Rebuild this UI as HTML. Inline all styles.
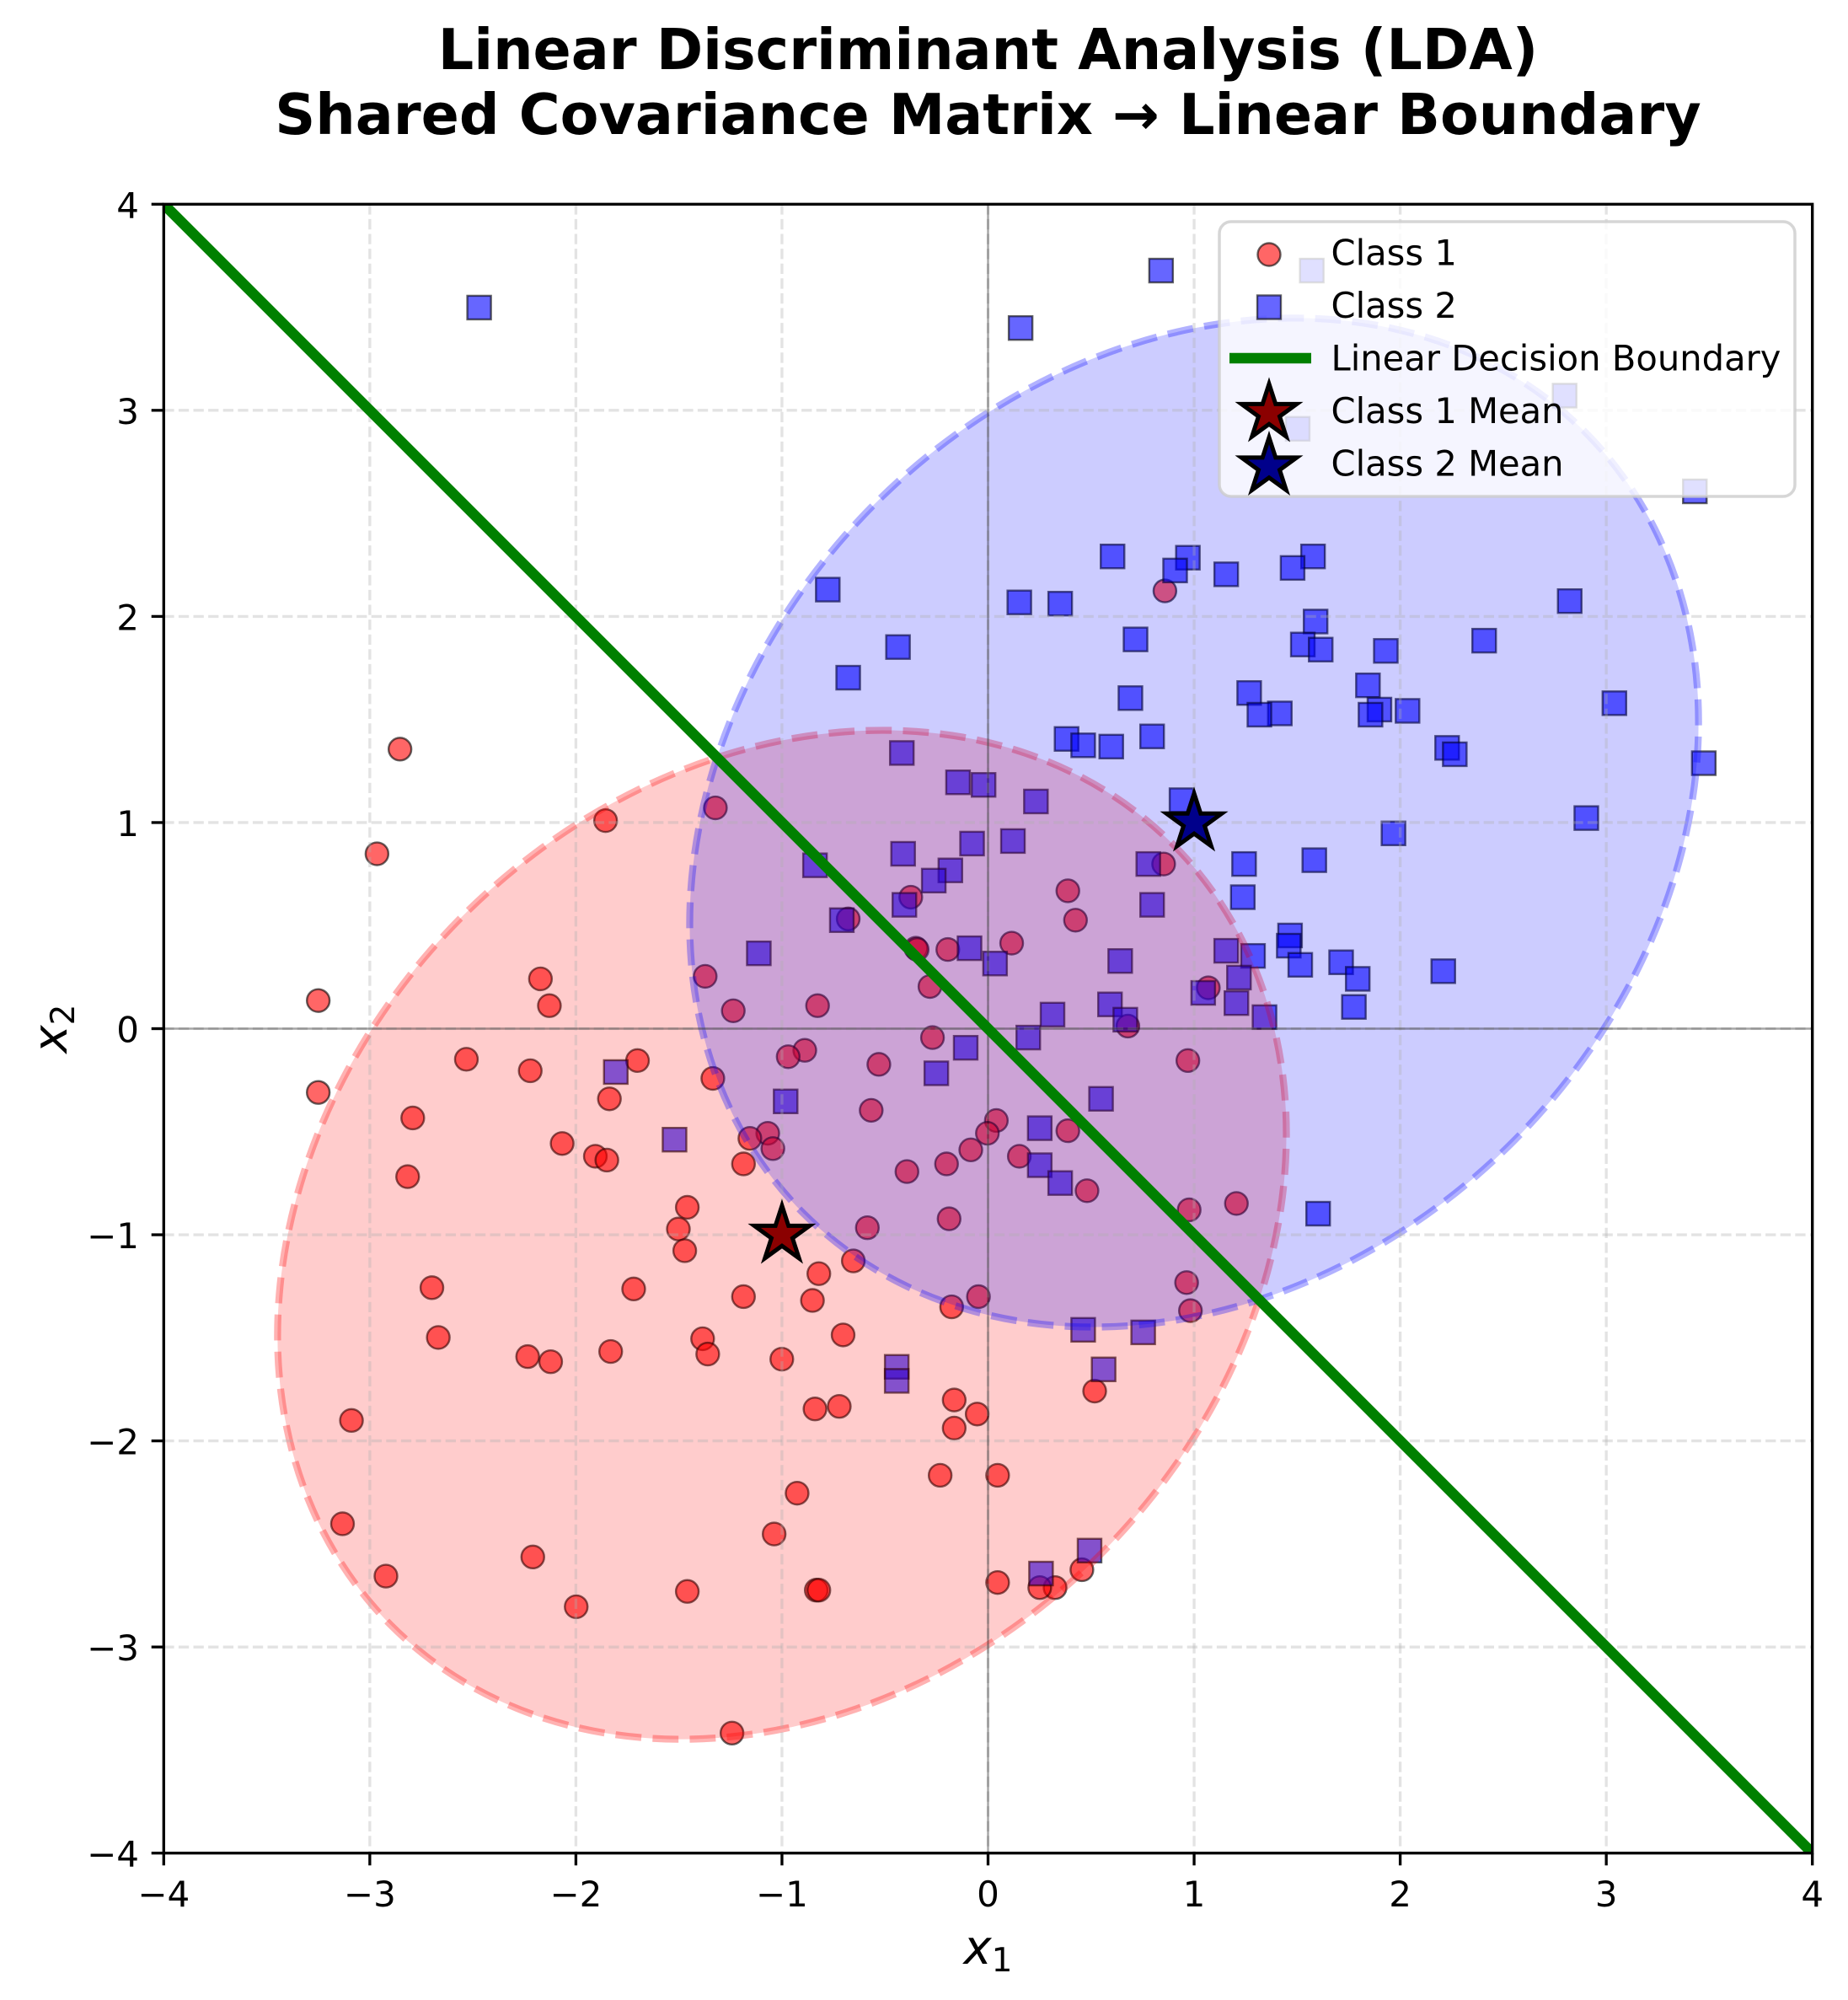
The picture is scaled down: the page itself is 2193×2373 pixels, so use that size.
<!DOCTYPE html>
<html>
<head>
<meta charset="utf-8">
<style>
html,body{margin:0;padding:0;background:#fff;}
svg{display:block;}
text{font-family:"DejaVu Sans","Liberation Sans",sans-serif;fill:#000;}
</style>
</head>
<body>
<svg xmlns="http://www.w3.org/2000/svg" width="2193" height="2373" viewBox="0 0 2193 2373">
<defs>
<clipPath id="ax"><rect x="194.3" y="242.3" width="1956.4" height="1956.4"/></clipPath>
<circle id="c" cx="0" cy="0" r="8.9" fill="#ff0000" fill-opacity="0.6" stroke="#000" stroke-opacity="0.6" stroke-width="1.6"/>
<rect id="s" x="-9.25" y="-9.25" width="18.5" height="18.5" fill="#0000ff" fill-opacity="0.6" stroke="#000" stroke-opacity="0.6" stroke-width="1.6"/>
<path id="star" d="M0,-34.5 L7.75,-10.66 L32.81,-10.66 L12.54,4.07 L20.28,27.91 L0,13.18 L-20.28,27.91 L-12.54,4.07 L-32.81,-10.66 L-7.75,-10.66 Z"/>
</defs>
<rect x="0" y="0" width="2193" height="2373" fill="#fff"/>

<!-- title -->
<text x="1172.5" y="82" font-size="66.67" font-weight="bold" text-anchor="middle">Linear Discriminant Analysis (LDA)</text>
<text x="1172.5" y="159" font-size="66.67" font-weight="bold" text-anchor="middle">Shared Covariance Matrix → Linear Boundary</text>

<g clip-path="url(#ax)">
<!-- scatter points in display coordinates -->
<g transform="matrix(1.5154 0 0 1.5142 0.33 0.03)">
<use href="#c" x="912" y="463"/><use href="#c" x="313" y="587"/><use href="#c" x="474" y="643"/><use href="#c" x="560" y="633"/>
<use href="#c" x="295" y="669"/><use href="#c" x="713" y="703"/><use href="#c" x="664" y="720"/><use href="#c" x="836" y="698"/>
<use href="#c" x="842" y="721"/><use href="#c" x="911" y="677"/><use href="#c" x="717" y="743"/><use href="#c" x="718" y="744"/>
<use href="#c" x="742" y="744"/><use href="#c" x="792" y="739"/><use href="#c" x="728" y="773"/><use href="#c" x="946" y="774"/>
<use href="#c" x="552" y="765"/><use href="#c" x="423" y="767"/><use href="#c" x="249" y="784"/><use href="#c" x="430" y="788"/>
<use href="#c" x="640" y="788"/><use href="#c" x="574" y="792"/><use href="#c" x="883" y="804"/><use href="#c" x="730" y="813"/>
<use href="#c" x="630" y="823"/><use href="#c" x="617" y="828"/><use href="#c" x="365" y="830"/><use href="#c" x="499" y="831"/>
<use href="#c" x="930" y="831"/><use href="#c" x="688" y="834"/><use href="#c" x="415" y="839"/><use href="#c" x="558" y="845"/>
<use href="#c" x="249" y="856"/><use href="#c" x="477" y="861"/><use href="#c" x="682" y="870"/><use href="#c" x="323" y="876"/>
<use href="#c" x="780" y="878"/><use href="#c" x="836" y="886"/><use href="#c" x="773" y="888"/><use href="#c" x="601" y="888"/>
<use href="#c" x="587" y="892"/><use href="#c" x="440" y="896"/><use href="#c" x="605" y="900"/><use href="#c" x="760" y="901"/>
<use href="#c" x="466" y="906"/><use href="#c" x="798" y="906"/><use href="#c" x="475" y="909"/><use href="#c" x="582" y="912"/>
<use href="#c" x="741" y="912"/><use href="#c" x="710" y="918"/><use href="#c" x="319" y="922"/><use href="#c" x="851" y="933"/>
<use href="#c" x="968" y="943"/><use href="#c" x="538" y="946"/><use href="#c" x="931" y="948"/><use href="#c" x="743" y="955"/>
<use href="#c" x="679" y="962"/><use href="#c" x="531" y="963"/><use href="#c" x="536" y="980"/><use href="#c" x="668" y="988"/>
<use href="#c" x="641" y="998"/><use href="#c" x="338" y="1009"/><use href="#c" x="496" y="1010"/><use href="#c" x="929" y="1005"/>
<use href="#c" x="582" y="1016"/><use href="#c" x="766" y="1016"/><use href="#c" x="636" y="1019"/><use href="#c" x="745" y="1024"/>
<use href="#c" x="932" y="1027"/><use href="#c" x="343" y="1048"/><use href="#c" x="550" y="1049"/><use href="#c" x="660" y="1046"/>
<use href="#c" x="478" y="1059"/><use href="#c" x="554" y="1061"/><use href="#c" x="413" y="1063"/><use href="#c" x="431" y="1067"/>
<use href="#c" x="612" y="1065"/><use href="#c" x="857" y="1090"/><use href="#c" x="747" y="1097"/><use href="#c" x="638" y="1104"/>
<use href="#c" x="657" y="1102"/><use href="#c" x="765" y="1108"/><use href="#c" x="275" y="1113"/><use href="#c" x="747" y="1119"/>
<use href="#c" x="781" y="1156"/><use href="#c" x="736" y="1156"/><use href="#c" x="624" y="1170"/><use href="#c" x="268" y="1194"/>
<use href="#c" x="606" y="1202"/><use href="#c" x="417" y="1220"/><use href="#c" x="847" y="1230"/><use href="#c" x="781" y="1240"/>
<use href="#c" x="826" y="1244"/><use href="#c" x="814" y="1244"/><use href="#c" x="302" y="1235"/><use href="#c" x="538" y="1247"/>
<use href="#c" x="639" y="1246"/><use href="#c" x="641" y="1246"/><use href="#c" x="451" y="1259"/><use href="#c" x="573" y="1358"/>

<use href="#s" x="375" y="241"/><use href="#s" x="909" y="212"/><use href="#s" x="1027" y="212"/><use href="#s" x="799" y="257"/>
<use href="#s" x="1225" y="310"/><use href="#s" x="1016" y="336"/><use href="#s" x="1327" y="385"/><use href="#s" x="871" y="436"/>
<use href="#s" x="930" y="437"/><use href="#s" x="1028" y="436"/><use href="#s" x="1012" y="445"/><use href="#s" x="920" y="447"/>
<use href="#s" x="960" y="450"/><use href="#s" x="648" y="462"/><use href="#s" x="798" y="472"/><use href="#s" x="830" y="473"/>
<use href="#s" x="1229" y="471"/><use href="#s" x="1030" y="487"/><use href="#s" x="1162" y="502"/><use href="#s" x="889" y="501"/>
<use href="#s" x="1020" y="505"/><use href="#s" x="1034" y="509"/><use href="#s" x="1085" y="510"/><use href="#s" x="703" y="507"/>
<use href="#s" x="664" y="531"/><use href="#s" x="978" y="543"/><use href="#s" x="885" y="547"/><use href="#s" x="1071" y="537"/>
<use href="#s" x="1264" y="551"/><use href="#s" x="1002" y="559"/><use href="#s" x="986" y="560"/><use href="#s" x="1080" y="556"/>
<use href="#s" x="1102" y="557"/><use href="#s" x="1073" y="560"/><use href="#s" x="835" y="579"/><use href="#s" x="848" y="584"/>
<use href="#s" x="870" y="585"/><use href="#s" x="902" y="577"/><use href="#s" x="1133" y="586"/><use href="#s" x="1139" y="591"/>
<use href="#s" x="1334" y="598"/><use href="#s" x="706" y="590"/><use href="#s" x="750" y="613"/><use href="#s" x="770" y="615"/>
<use href="#s" x="811" y="628"/><use href="#s" x="925" y="627"/><use href="#s" x="1242" y="641"/><use href="#s" x="1091" y="653"/>
<use href="#s" x="761" y="661"/><use href="#s" x="793" y="659"/><use href="#s" x="707" y="669"/><use href="#s" x="638" y="678"/>
<use href="#s" x="974" y="677"/><use href="#s" x="1029" y="674"/><use href="#s" x="899" y="677"/><use href="#s" x="744" y="682"/>
<use href="#s" x="731" y="690"/><use href="#s" x="708" y="709"/><use href="#s" x="902" y="709"/><use href="#s" x="659" y="721"/>
<use href="#s" x="973" y="703"/><use href="#s" x="1010" y="733"/><use href="#s" x="1009" y="741"/><use href="#s" x="594" y="747"/>
<use href="#s" x="960" y="745"/><use href="#s" x="981" y="749"/><use href="#s" x="1050" y="754"/><use href="#s" x="1018" y="756"/>
<use href="#s" x="759" y="743"/><use href="#s" x="877" y="753"/><use href="#s" x="1063" y="767"/><use href="#s" x="1130" y="761"/>
<use href="#s" x="970" y="766"/><use href="#s" x="779" y="755"/><use href="#s" x="942" y="778"/><use href="#s" x="869" y="787"/>
<use href="#s" x="968" y="786"/><use href="#s" x="1060" y="789"/><use href="#s" x="824" y="795"/><use href="#s" x="881" y="799"/>
<use href="#s" x="990" y="797"/><use href="#s" x="805" y="813"/><use href="#s" x="756" y="821"/><use href="#s" x="482" y="840"/>
<use href="#s" x="733" y="841"/><use href="#s" x="615" y="863"/><use href="#s" x="862" y="861"/><use href="#s" x="528" y="893"/>
<use href="#s" x="814" y="884"/><use href="#s" x="814" y="913"/><use href="#s" x="830" y="927"/><use href="#s" x="1032" y="951"/>
<use href="#s" x="848" y="1042"/><use href="#s" x="895" y="1044"/><use href="#s" x="864" y="1073"/><use href="#s" x="702" y="1071"/>
<use href="#s" x="702" y="1082"/><use href="#s" x="853" y="1215"/><use href="#s" x="815" y="1233"/>
</g>

<!-- covariance ellipses -->
<ellipse cx="927.95" cy="1465.05" rx="655.7" ry="535.4" transform="rotate(-45 927.95 1465.05)" fill="#ff0000" fill-opacity="0.2" stroke="#ff0000" stroke-opacity="0.3" stroke-width="8.3" stroke-dasharray="30.8 13.3"/>
<ellipse cx="1417.05" cy="975.95" rx="655.7" ry="535.4" transform="rotate(-45 1417.05 975.95)" fill="#0000ff" fill-opacity="0.2" stroke="#0000ff" stroke-opacity="0.3" stroke-width="8.3" stroke-dasharray="30.8 13.3"/>

<!-- grid -->
<g stroke="#b0b0b0" stroke-opacity="0.35" stroke-width="3.33" stroke-dasharray="12.3 5.3" fill="none">
<line x1="438.85" y1="242.3" x2="438.85" y2="2198.7"/>
<line x1="683.4" y1="242.3" x2="683.4" y2="2198.7"/>
<line x1="927.95" y1="242.3" x2="927.95" y2="2198.7"/>
<line x1="1172.5" y1="242.3" x2="1172.5" y2="2198.7"/>
<line x1="1417.05" y1="242.3" x2="1417.05" y2="2198.7"/>
<line x1="1661.6" y1="242.3" x2="1661.6" y2="2198.7"/>
<line x1="1906.15" y1="242.3" x2="1906.15" y2="2198.7"/>
<line x1="194.3" y1="486.85" x2="2150.7" y2="486.85"/>
<line x1="194.3" y1="731.4" x2="2150.7" y2="731.4"/>
<line x1="194.3" y1="975.95" x2="2150.7" y2="975.95"/>
<line x1="194.3" y1="1220.5" x2="2150.7" y2="1220.5"/>
<line x1="194.3" y1="1465.05" x2="2150.7" y2="1465.05"/>
<line x1="194.3" y1="1709.6" x2="2150.7" y2="1709.6"/>
<line x1="194.3" y1="1954.15" x2="2150.7" y2="1954.15"/>
</g>

<!-- zero lines -->
<line x1="1172.5" y1="242.3" x2="1172.5" y2="2198.7" stroke="#000" stroke-opacity="0.35" stroke-width="2.4"/>
<line x1="194.3" y1="1220.5" x2="2150.7" y2="1220.5" stroke="#000" stroke-opacity="0.35" stroke-width="2.4"/>

<!-- decision boundary -->
<line x1="180" y1="228" x2="2165" y2="2213" stroke="#008000" stroke-width="12.5"/>

<!-- means -->
<use href="#star" x="927.95" y="1465.05" fill="#8b0000" stroke="#000" stroke-width="5" stroke-linejoin="miter"/>
<use href="#star" x="1417.05" y="975.95" fill="#00008b" stroke="#000" stroke-width="5" stroke-linejoin="miter"/>
</g>

<!-- spines -->
<rect x="194.3" y="242.3" width="1956.4" height="1956.4" fill="none" stroke="#000" stroke-width="3.33"/>

<!-- ticks -->
<g stroke="#000" stroke-width="3.33">
<line x1="194.3" y1="2198.7" x2="194.3" y2="2213.3"/>
<line x1="438.85" y1="2198.7" x2="438.85" y2="2213.3"/>
<line x1="683.4" y1="2198.7" x2="683.4" y2="2213.3"/>
<line x1="927.95" y1="2198.7" x2="927.95" y2="2213.3"/>
<line x1="1172.5" y1="2198.7" x2="1172.5" y2="2213.3"/>
<line x1="1417.05" y1="2198.7" x2="1417.05" y2="2213.3"/>
<line x1="1661.6" y1="2198.7" x2="1661.6" y2="2213.3"/>
<line x1="1906.15" y1="2198.7" x2="1906.15" y2="2213.3"/>
<line x1="2150.7" y1="2198.7" x2="2150.7" y2="2213.3"/>
<line x1="179.7" y1="242.3" x2="194.3" y2="242.3"/>
<line x1="179.7" y1="486.85" x2="194.3" y2="486.85"/>
<line x1="179.7" y1="731.4" x2="194.3" y2="731.4"/>
<line x1="179.7" y1="975.95" x2="194.3" y2="975.95"/>
<line x1="179.7" y1="1220.5" x2="194.3" y2="1220.5"/>
<line x1="179.7" y1="1465.05" x2="194.3" y2="1465.05"/>
<line x1="179.7" y1="1709.6" x2="194.3" y2="1709.6"/>
<line x1="179.7" y1="1954.15" x2="194.3" y2="1954.15"/>
<line x1="179.7" y1="2198.7" x2="194.3" y2="2198.7"/>
</g>

<!-- tick labels -->
<g font-size="42" text-anchor="middle">
<text x="194.3" y="2262">&#8722;4</text>
<text x="438.85" y="2262">&#8722;3</text>
<text x="683.4" y="2262">&#8722;2</text>
<text x="927.95" y="2262">&#8722;1</text>
<text x="1172.5" y="2262">0</text>
<text x="1417.05" y="2262">1</text>
<text x="1661.6" y="2262">2</text>
<text x="1906.15" y="2262">3</text>
<text x="2150.7" y="2262">4</text>
</g>
<g font-size="42" text-anchor="end">
<text x="165" y="258.3">4</text>
<text x="165" y="502.85">3</text>
<text x="165" y="747.4">2</text>
<text x="165" y="991.95">1</text>
<text x="165" y="1236.5">0</text>
<text x="165" y="1481.05">&#8722;1</text>
<text x="165" y="1725.6">&#8722;2</text>
<text x="165" y="1970.15">&#8722;3</text>
<text x="165" y="2214.7">&#8722;4</text>
</g>

<!-- axis labels -->
<text x="1172.5" y="2330" font-size="56" text-anchor="middle"><tspan font-style="italic">x</tspan><tspan font-size="39" dy="9">1</tspan></text>
<text transform="translate(79 1220.5) rotate(-90)" font-size="56" text-anchor="middle"><tspan font-style="italic">x</tspan><tspan font-size="39" dy="9">2</tspan></text>

<!-- legend -->
<rect x="1447" y="263" width="683" height="326" rx="14" ry="14" fill="#fff" fill-opacity="0.8" stroke="#cccccc" stroke-opacity="0.8" stroke-width="3.5"/>
<circle cx="1506" cy="302" r="13.5" fill="#ff0000" fill-opacity="0.6" stroke="#000" stroke-opacity="0.6" stroke-width="2.4"/>
<rect x="1492" y="350.5" width="28" height="28" fill="#0000ff" fill-opacity="0.6" stroke="#000" stroke-opacity="0.6" stroke-width="2.4"/>
<line x1="1459" y1="425" x2="1556" y2="425" stroke="#008000" stroke-width="12.5"/>
<use href="#star" x="1506" y="490" fill="#8b0000" stroke="#000" stroke-width="5"/>
<use href="#star" x="1506" y="553.5" fill="#00008b" stroke="#000" stroke-width="5"/>
<g font-size="41.67">
<text x="1579.5" y="314.3">Class 1</text>
<text x="1579.5" y="376.8">Class 2</text>
<text x="1579.5" y="439.3">Linear Decision Boundary</text>
<text x="1579.5" y="501.8">Class 1 Mean</text>
<text x="1579.5" y="564.3">Class 2 Mean</text>
</g>
</svg>
</body>
</html>
